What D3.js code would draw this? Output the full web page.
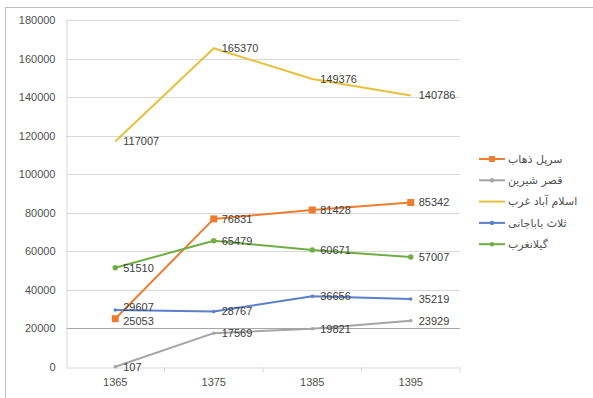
<!DOCTYPE html>
<html>
<head>
<meta charset="utf-8">
<script src="https://cdn.jsdelivr.net/npm/d3@7"></script>
<style>
  html, body { margin: 0; padding: 0; background: #fff; }
  svg { display: block; }
  text { font-family: "Liberation Sans", Arial, sans-serif; }
</style>
</head>
<body>
<svg id="chart" width="593" height="398"></svg>
<script>
// Census years (category axis)
const years = ["1365", "1375", "1385", "1395"];

// Population per county
const sarpolZahab    = [25053, 76831, 81428, 85342];
const qasrShirin     = [107, 17569, 19821, 23929];
const eslamabadGharb = [117007, 165370, 149376, 140786];
const salasBabajani  = [29607, 28767, 36656, 35219];
const gilanGharb     = [51510, 65479, 60671, 57007];

const seriesNames = ["سرپل ذهاب", "قصر شیرین", "اسلام آباد غرب", "ثلاث باباجانی", "گیلانغرب"];
const yTicks = [0, 20000, 40000, 60000, 80000, 100000, 120000, 140000, 160000, 180000];

const series = [
  { name: seriesNames[0], values: sarpolZahab,    color: "#ED7D31", marker: "square", msize: 7,   labelShift: [2, 0, 0, 0] },
  { name: seriesNames[1], values: qasrShirin,     color: "#A5A5A5", marker: "circle", msize: 2.5, labelShift: [0, 0, 0, 0] },
  { name: seriesNames[2], values: eslamabadGharb, color: "#E6C03F", marker: "none",   msize: 0,   labelShift: [0, 0, 0, 0] },
  { name: seriesNames[3], values: salasBabajani,  color: "#5B7FCB", marker: "circle", msize: 2.5, labelShift: [-3, 0, 0, 0] },
  { name: seriesNames[4], values: gilanGharb,     color: "#70AD47", marker: "circle", msize: 4.5, labelShift: [0, 0, 0, 0] }
];

const svg = d3.select("#chart");

// outer chart frame
svg.append("rect")
  .attr("x", 5.5).attr("y", 7.5)
  .attr("width", 620).attr("height", 420)
  .attr("fill", "#fff").attr("stroke", "#bfbfbf").attr("stroke-width", 1);

const plot = { left: 66, right: 460, top: 20, bottom: 367 };

const x = d3.scaleBand().domain(years).range([plot.left, plot.right]);
const y = d3.scaleLinear().domain([0, 180000]).range([plot.bottom, plot.top]);

// horizontal gridlines
svg.append("g")
  .selectAll("line")
  .data(yTicks.filter(d => d > 0))
  .join("line")
  .attr("x1", plot.left).attr("x2", plot.right)
  .attr("y1", d => Math.round(y(d)) + 0.5).attr("y2", d => Math.round(y(d)) + 0.5)
  .attr("stroke", d => d === 20000 ? "#a6a6a6" : "#d9d9d9")
  .attr("stroke-width", 1.2);

// y axis
const yAxis = svg.append("g")
  .attr("transform", `translate(${plot.left + 0.5},0)`)
  .call(d3.axisLeft(y).tickValues(yTicks).tickSize(0).tickPadding(11).tickFormat(d3.format("d")));
yAxis.select(".domain").attr("stroke", "#d9d9d9");
yAxis.selectAll("text").attr("fill", "#505050").style("font-size", "11px");

// x axis with ticks at category boundaries
const xAxis = svg.append("g")
  .attr("transform", `translate(0,${Math.round(plot.bottom) + 0.5})`)
  .call(d3.axisBottom(x).tickSize(0).tickPadding(11));
xAxis.select(".domain").attr("stroke", "#d9d9d9");
xAxis.selectAll("text").attr("fill", "#505050").style("font-size", "11px");
xAxis.selectAll(".bound")
  .data(years)
  .join("line")
  .attr("class", "bound")
  .attr("x1", d => x(d) + x.bandwidth()).attr("x2", d => x(d) + x.bandwidth())
  .attr("y1", 0).attr("y2", 5)
  .attr("stroke", "#d9d9d9");

const cx = (d, i) => x(years[i]) + x.bandwidth() / 2;

const line = d3.line()
  .x((d, i) => cx(d, i))
  .y(d => y(d));

// lines
svg.append("g")
  .selectAll("path")
  .data(series)
  .join("path")
  .attr("d", s => line(s.values))
  .attr("fill", "none")
  .attr("stroke", s => s.color)
  .attr("stroke-width", 2)
  .attr("stroke-linejoin", "round");

// markers
series.forEach(s => {
  if (s.marker === "none") return;
  const g = svg.append("g");
  if (s.marker === "square") {
    g.selectAll("rect").data(s.values).join("rect")
      .attr("x", (d, i) => cx(d, i) - s.msize / 2)
      .attr("y", d => y(d) - s.msize / 2)
      .attr("width", s.msize).attr("height", s.msize)
      .attr("fill", s.color);
  } else {
    g.selectAll("circle").data(s.values).join("circle")
      .attr("cx", (d, i) => cx(d, i))
      .attr("cy", d => y(d))
      .attr("r", s.msize / 2 + 0.5)
      .attr("fill", s.color);
  }
});

// value labels to the right of each point
series.forEach(s => {
  svg.append("g")
    .selectAll("text").data(s.values).join("text")
    .attr("x", (d, i) => cx(d, i) + 8)
    .attr("y", (d, i) => y(d) + s.labelShift[i])
    .attr("dy", "0.35em")
    .attr("fill", "#404040")
    .style("font-size", "11px")
    .text(d => d);
});

// legend
const legend = svg.append("g");
series.forEach((s, i) => {
  const ly = 159 + i * 21.3;
  const row = legend.append("g").attr("transform", `translate(0,${ly})`);
  row.append("line")
    .attr("x1", 479).attr("x2", 505).attr("y1", 0).attr("y2", 0)
    .attr("stroke", s.color).attr("stroke-width", 2);
  if (s.marker === "square") {
    row.append("rect").attr("x", 492 - 3).attr("y", -3).attr("width", 6).attr("height", 6).attr("fill", s.color);
  } else if (s.marker === "circle") {
    row.append("circle").attr("cx", 492).attr("cy", 0).attr("r", 2.2).attr("fill", s.color);
  }
  row.append("text")
    .attr("x", 508).attr("y", 0).attr("dy", "0.35em")
    .attr("fill", "#505050")
    .style("font-family", "'DejaVu Sans', sans-serif")
    .style("font-size", "11px")
    .text(s.name);
});
</script>
</body>
</html>
